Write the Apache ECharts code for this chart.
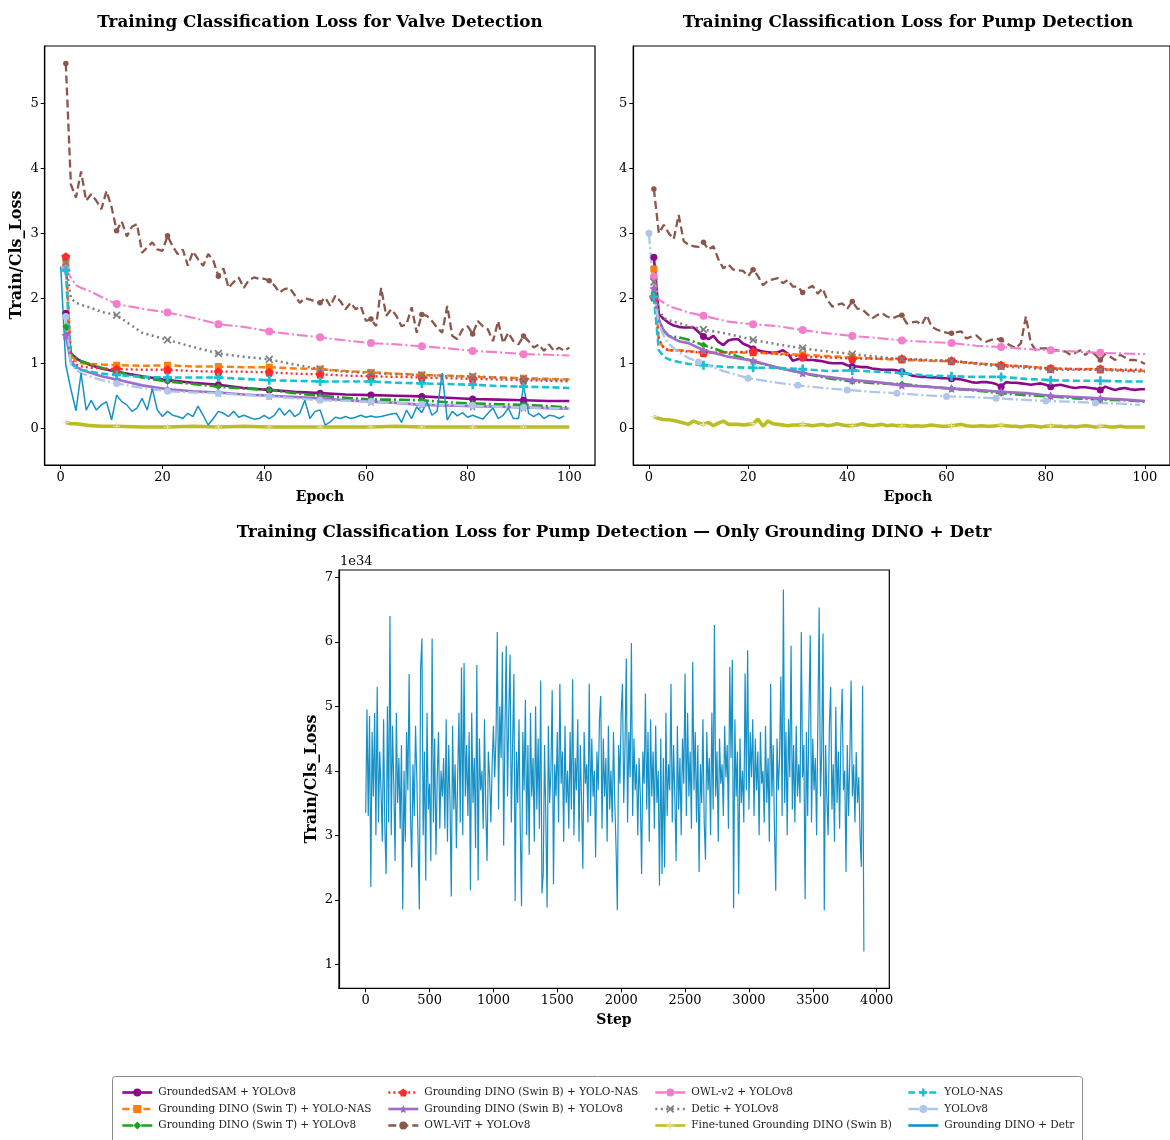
<!DOCTYPE html>
<html><head><meta charset="utf-8">
<script src="https://cdn.jsdelivr.net/npm/echarts@6/dist/echarts.min.js"></script>
<style>html,body{margin:0;padding:0;background:#fff}#c{width:1170px;height:1140px}</style>
</head><body><div id="c"></div>
<script>
// ---------- DATA ----------
const sparseEpochs = [1,2,3,4,6,8,11,16,21,26,31,36,41,46,51,56,61,66,71,76,81,86,91,96,100];
const pumpV8Epochs = [0,1,2,3,4,6,8,10,15,20,25,30,35,40,45,50,55,60,65,70,75,80,85,90,95,99];
const fullEpochs = Array.from({length:100},(_,i)=>i+1);
const detrEpochs = Array.from({length:100},(_,i)=>i);
const xTicksEpoch = [0,20,40,60,80,100];
const yTicksLoss = [0,1,2,3,4,5];
const xTicksStep = [0,500,1000,1500,2000,2500,3000,3500,4000];
const yTicksE34 = [1,2,3,4,5,6,7];

// Valve detection (values on sparseEpochs unless noted)
const valveGroundedSAM = [1.77,1.15,1.08,1.03,0.97,0.92,0.87,0.80,0.74,0.70,0.67,0.62,0.59,0.56,0.54,0.52,0.51,0.50,0.49,0.47,0.45,0.44,0.43,0.42,0.42];
const valveSwinTNas = [2.55,1.12,1.04,1.00,0.99,0.98,0.97,0.96,0.97,0.95,0.95,0.94,0.94,0.92,0.91,0.88,0.86,0.84,0.82,0.81,0.79,0.78,0.77,0.76,0.75];
const valveSwinTV8 = [1.56,1.16,1.08,1.03,0.98,0.93,0.87,0.78,0.72,0.68,0.64,0.61,0.59,0.54,0.50,0.47,0.44,0.44,0.43,0.40,0.38,0.37,0.36,0.34,0.32];
const valveSwinBNas = [2.64,1.08,0.98,0.95,0.93,0.92,0.91,0.90,0.90,0.88,0.87,0.87,0.86,0.84,0.83,0.81,0.80,0.79,0.78,0.77,0.76,0.75,0.74,0.73,0.72];
const valveSwinBV8 = [1.43,1.02,0.95,0.90,0.85,0.80,0.75,0.66,0.60,0.57,0.55,0.52,0.50,0.48,0.46,0.43,0.41,0.39,0.36,0.35,0.34,0.33,0.32,0.31,0.30];
const valveOwlVit = [5.61,3.75,3.55,3.95,3.5,3.6,3.5,3.37,3.65,3.4,3.04,3.18,2.95,3.1,3.14,2.7,2.78,2.86,2.75,2.73,2.96,2.8,2.68,2.75,2.5,2.72,2.6,2.5,2.68,2.58,2.34,2.46,2.16,2.25,2.32,2.16,2.28,2.32,2.3,2.3,2.27,2.2,2.09,2.14,2.16,2.05,1.93,2.0,1.98,1.95,1.93,2.01,1.88,2.04,1.95,1.83,1.93,1.83,1.88,1.65,1.68,1.57,2.16,1.73,1.83,1.73,1.57,1.6,1.86,1.47,1.75,1.73,1.65,1.55,1.47,1.88,1.42,1.37,1.52,1.57,1.45,1.65,1.57,1.52,1.34,1.65,1.31,1.47,1.34,1.29,1.42,1.34,1.24,1.29,1.19,1.29,1.19,1.24,1.19,1.24]; // fullEpochs
const valveOwlV2 = [2.45,2.32,2.20,2.16,2.10,2.02,1.91,1.84,1.78,1.70,1.60,1.56,1.49,1.44,1.40,1.35,1.31,1.29,1.26,1.23,1.19,1.17,1.14,1.13,1.12];
const valveDetic = [2.55,2.00,1.93,1.90,1.85,1.79,1.74,1.47,1.36,1.25,1.15,1.10,1.06,0.98,0.91,0.87,0.85,0.83,0.82,0.80,0.80,0.78,0.76,0.75,0.74];
const valveFineTuned = [0.09,0.07,0.07,0.06,0.04,0.03,0.03,0.02,0.02,0.03,0.02,0.03,0.02,0.02,0.02,0.02,0.02,0.03,0.02,0.02,0.02,0.02,0.02,0.02,0.02];
const valveYoloNas = [2.43,1.00,0.93,0.90,0.87,0.84,0.82,0.79,0.78,0.78,0.78,0.76,0.74,0.73,0.72,0.72,0.72,0.70,0.69,0.68,0.67,0.65,0.64,0.63,0.62];
const valveYoloV8 = [1.72,0.98,0.90,0.85,0.79,0.74,0.69,0.62,0.57,0.55,0.54,0.51,0.49,0.46,0.43,0.42,0.41,0.39,0.37,0.36,0.35,0.33,0.32,0.31,0.30];
const valveDetr = [2.49,0.97,0.6,0.27,0.85,0.28,0.43,0.28,0.36,0.41,0.13,0.51,0.41,0.36,0.26,0.31,0.46,0.28,0.61,0.28,0.18,0.26,0.2,0.18,0.15,0.23,0.18,0.34,0.2,0.05,0.15,0.26,0.23,0.18,0.26,0.17,0.2,0.17,0.14,0.15,0.2,0.15,0.2,0.31,0.2,0.28,0.18,0.23,0.43,0.15,0.26,0.28,0.05,0.1,0.17,0.15,0.18,0.15,0.17,0.2,0.17,0.19,0.17,0.18,0.2,0.22,0.23,0.09,0.28,0.15,0.33,0.24,0.41,0.2,0.26,0.85,0.13,0.26,0.19,0.24,0.17,0.2,0.17,0.14,0.23,0.31,0.15,0.2,0.31,0.15,0.15,0.65,0.23,0.18,0.23,0.15,0.2,0.19,0.15,0.19]; // detrEpochs

// Pump detection
const pumpGroundedSAM = [2.63,1.76,1.68,1.62,1.58,1.56,1.55,1.55,1.55,1.48,1.41,1.37,1.42,1.33,1.28,1.35,1.37,1.37,1.3,1.27,1.22,1.2,1.18,1.17,1.16,1.17,1.2,1.15,1.04,1.06,1.08,1.05,1.05,1.04,1.03,1.01,1.0,1.0,1.0,0.97,0.95,0.95,0.94,0.94,0.92,0.91,0.9,0.9,0.9,0.89,0.87,0.84,0.81,0.8,0.79,0.79,0.78,0.78,0.77,0.77,0.76,0.76,0.75,0.73,0.71,0.7,0.71,0.71,0.7,0.68,0.64,0.71,0.7,0.7,0.69,0.68,0.67,0.68,0.69,0.67,0.64,0.66,0.67,0.65,0.63,0.62,0.63,0.63,0.62,0.61,0.59,0.64,0.61,0.59,0.61,0.62,0.6,0.59,0.6,0.6]; // fullEpochs
const pumpSwinTNas = [2.45,1.35,1.23,1.20,1.20,1.19,1.16,1.17,1.16,1.15,1.13,1.11,1.09,1.07,1.05,1.04,1.03,1.00,0.97,0.95,0.92,0.91,0.91,0.89,0.88];
const pumpSwinTV8 = [2.08,1.67,1.50,1.42,1.40,1.36,1.28,1.15,1.03,0.93,0.85,0.77,0.72,0.69,0.68,0.64,0.61,0.58,0.54,0.51,0.49,0.46,0.44,0.43,0.41];
const pumpSwinBNas = [2.02,1.38,1.23,1.20,1.19,1.18,1.16,1.17,1.18,1.14,1.10,1.09,1.07,1.07,1.07,1.05,1.04,1.00,0.97,0.95,0.92,0.91,0.91,0.90,0.90];
const pumpSwinBV8 = [2.15,1.66,1.50,1.42,1.34,1.31,1.20,1.10,1.04,0.93,0.85,0.79,0.74,0.71,0.66,0.64,0.61,0.59,0.56,0.54,0.50,0.48,0.46,0.44,0.42];
const pumpOwlVit = [3.68,3.0,3.13,3.0,2.91,3.28,2.88,2.82,2.8,2.79,2.86,2.75,2.8,2.6,2.46,2.52,2.44,2.43,2.42,2.34,2.44,2.34,2.2,2.27,2.29,2.31,2.23,2.28,2.18,2.18,2.09,2.15,2.19,2.07,2.15,1.97,1.87,1.9,1.92,1.84,1.95,1.84,1.83,1.76,1.69,1.74,1.77,1.72,1.69,1.72,1.74,1.61,1.63,1.64,1.59,1.74,1.56,1.52,1.49,1.47,1.46,1.48,1.49,1.38,1.41,1.43,1.36,1.33,1.36,1.38,1.36,1.31,1.27,1.23,1.31,1.72,1.31,1.2,1.23,1.23,1.2,1.2,1.19,1.18,1.13,1.16,1.2,1.13,1.2,1.13,1.05,1.15,1.1,1.05,1.13,1.09,1.05,1.05,1.03,0.99]; // fullEpochs
const pumpOwlV2 = [2.33,1.98,1.93,1.88,1.83,1.78,1.73,1.64,1.60,1.57,1.51,1.46,1.42,1.39,1.35,1.33,1.31,1.27,1.25,1.22,1.20,1.18,1.16,1.15,1.14];
const pumpDetic = [2.25,1.82,1.70,1.66,1.62,1.57,1.52,1.45,1.36,1.29,1.23,1.18,1.14,1.10,1.06,1.05,1.03,0.99,0.95,0.93,0.90,0.90,0.90,0.88,0.87];
const pumpFineTuned = [0.18,0.15,0.13,0.13,0.12,0.1,0.08,0.06,0.11,0.08,0.06,0.09,0.04,0.08,0.11,0.06,0.06,0.06,0.05,0.06,0.07,0.14,0.03,0.11,0.07,0.06,0.05,0.04,0.05,0.05,0.06,0.05,0.04,0.05,0.06,0.04,0.05,0.07,0.05,0.04,0.04,0.05,0.07,0.05,0.04,0.05,0.06,0.04,0.05,0.04,0.04,0.04,0.03,0.04,0.03,0.04,0.05,0.04,0.03,0.03,0.04,0.05,0.06,0.04,0.03,0.03,0.04,0.03,0.03,0.04,0.05,0.04,0.03,0.03,0.02,0.03,0.04,0.03,0.02,0.03,0.04,0.03,0.03,0.02,0.03,0.02,0.03,0.04,0.03,0.02,0.03,0.03,0.02,0.02,0.03,0.02,0.02,0.02,0.02,0.02]; // fullEpochs
const pumpYoloNas = [2.02,1.20,1.10,1.06,1.02,0.99,0.97,0.94,0.93,0.93,0.91,0.88,0.89,0.87,0.85,0.81,0.80,0.79,0.79,0.76,0.74,0.73,0.73,0.72,0.72];
const pumpYoloV8 = [3.00,2.05,1.60,1.42,1.30,1.17,1.08,1.02,0.88,0.77,0.71,0.66,0.62,0.59,0.56,0.54,0.51,0.49,0.48,0.46,0.44,0.42,0.41,0.39,0.38,0.36]; // pumpV8Epochs

// Pump detection, only Grounding DINO + Detr (values x 1e34), one value every 10 steps
const detrPumpLossE34 = [
3.35,4.95,3.3,4.85,2.2,4.6,3.6,4.9,3.0,5.3,3.2,4.3,3.7,2.9,4.8,3.1,2.4,5.0,3.2,6.4,
3.0,4.7,3.8,2.6,4.9,3.5,4.2,3.1,4.4,1.85,4.0,2.9,4.6,3.7,5.5,3.4,2.5,4.1,3.3,4.7,
3.9,2.9,1.85,5.6,6.05,3.0,4.3,2.3,4.9,3.4,3.8,2.6,6.05,3.2,4.5,2.7,3.9,4.6,3.1,4.0,
3.6,4.2,3.1,4.8,2.9,4.4,3.5,2.05,4.7,3.4,4.1,2.8,3.9,4.9,3.2,5.6,3.0,5.67,3.6,4.4,
3.3,4.6,2.15,4.9,3.5,4.2,2.8,5.64,2.3,4.5,3.7,4.0,3.1,4.8,3.4,2.6,4.3,3.9,3.2,4.1,
4.7,3.9,4.5,6.15,3.4,5.0,4.2,5.84,2.84,4.6,5.94,3.6,4.9,5.8,3.2,4.4,5.5,1.98,4.3,3.5,
4.8,3.1,1.9,4.6,3.7,5.1,3.0,4.4,2.7,4.9,3.6,4.2,2.9,5.0,3.4,4.5,3.1,5.4,2.1,2.4,
4.4,3.3,1.88,4.7,3.5,4.0,5.25,2.24,4.1,3.6,4.6,3.2,5.35,3.8,4.3,2.9,4.7,3.5,4.0,3.1,
4.6,3.4,5.42,3.0,4.2,3.7,4.8,2.9,4.4,3.5,2.48,4.6,3.8,4.1,3.2,5.35,3.3,4.5,3.6,4.0,
2.66,4.3,3.7,4.8,5.16,3.1,4.5,3.6,4.2,2.9,4.7,3.4,4.0,3.2,4.6,3.5,2.8,1.84,4.4,3.8,
4.9,5.35,3.5,4.4,5.74,3.2,4.6,3.9,5.98,3.3,4.5,3.7,4.1,3.0,4.2,3.6,2.4,4.3,3.8,5.2,
3.4,4.6,2.9,4.8,3.6,4.3,3.1,4.7,3.5,4.0,2.22,4.5,2.4,4.2,2.5,4.9,3.3,4.1,3.7,5.35,
3.2,4.4,3.6,2.6,4.7,3.4,4.2,3.0,4.5,3.8,5.51,3.3,4.9,3.6,4.3,3.1,5.69,3.7,4.6,3.2,
4.4,2.43,4.1,3.5,4.8,3.2,2.62,4.6,3.7,4.2,3.0,4.9,3.4,6.26,3.6,4.3,2.9,4.5,3.8,4.1,
3.3,4.7,3.9,4.4,3.1,5.61,4.2,5.72,1.87,4.8,3.6,4.3,2.09,4.5,3.5,4.0,3.2,5.51,3.7,5.87,
3.4,4.6,3.9,4.8,3.3,4.5,3.7,4.3,3.0,4.6,3.8,4.0,3.2,4.7,3.5,4.2,2.9,5.35,3.6,4.4,
3.1,2.14,4.5,3.7,4.2,5.46,3.3,6.81,3.5,4.6,3.0,4.8,3.9,5.94,3.4,4.4,3.2,4.7,3.6,4.1,
3.5,6.15,3.9,4.4,2.01,4.6,3.3,4.9,6.1,3.2,4.5,3.7,4.2,3.0,4.8,6.53,3.6,4.3,6.13,1.84,
4.4,3.6,3.0,4.7,5.3,3.4,4.1,2.9,4.99,3.5,4.3,3.1,4.6,5.27,3.7,4.0,2.43,4.4,3.3,4.2,
5.4,3.6,4.1,3.2,4.29,3.5,3.9,3.0,2.51,5.32,1.2];
const detrSteps = Array.from({length:detrPumpLossE34.length},(_,i)=>i*10);

const legendColumns = [
  ['GroundedSAM + YOLOv8','Grounding DINO (Swin T) + YOLO-NAS','Grounding DINO (Swin T) + YOLOv8'],
  ['Grounding DINO (Swin B) + YOLO-NAS','Grounding DINO (Swin B) + YOLOv8','OWL-ViT + YOLOv8'],
  ['OWL-v2 + YOLOv8','Detic + YOLOv8','Fine-tuned Grounding DINO (Swin B)'],
  ['YOLO-NAS','YOLOv8','Grounding DINO + Detr']
];

// ---------- STYLE ----------
const PENTAGON = 'path://M0,-10 L9.5,-3.1 L5.9,8.1 L-5.9,8.1 L-9.5,-3.1 Z';
const STAR = 'path://M0,-10 L2.9,-4 L9.5,-3.1 L4.7,1.5 L5.9,8.1 L0,5 L-5.9,8.1 L-4.7,1.5 L-9.5,-3.1 L-2.9,-4 Z';
const XMARK = 'path://M-10,-7 L-7,-10 L0,-3 L7,-10 L10,-7 L3,0 L10,7 L7,10 L0,3 L-7,10 L-10,7 L-3,0 Z';
const PLUS = 'path://M-3,-10 L3,-10 L3,-3 L10,-3 L10,3 L3,3 L3,10 L-3,10 L-3,3 L-10,3 L-10,-3 L-3,-3 Z';
const PLUS_THIN = 'path://M-1.5,-10 L1.5,-10 L1.5,-1.5 L10,-1.5 L10,1.5 L1.5,1.5 L1.5,10 L-1.5,10 L-1.5,1.5 L-10,1.5 L-10,-1.5 L-1.5,-1.5 Z';
const DASHDOT = [11,3,2,3];
const styles = {
  'GroundedSAM + YOLOv8': {color:'#8b0a8b', type:'solid', width:2.6, symbol:'circle', size:7},
  'Grounding DINO (Swin T) + YOLO-NAS': {color:'#ff7f0e', type:[7,3.5], width:2.5, symbol:'rect', size:7},
  'Grounding DINO (Swin T) + YOLOv8': {color:'#1ca21c', type:DASHDOT, width:2.6, symbol:'diamond', size:7},
  'Grounding DINO (Swin B) + YOLO-NAS': {color:'#ff2a2a', type:[2,3], width:2.3, symbol:PENTAGON, size:9},
  'Grounding DINO (Swin B) + YOLOv8': {color:'#a06ccc', type:'solid', width:2.6, symbol:STAR, size:9},
  'OWL-ViT + YOLOv8': {color:'#8c564b', type:[8,4], width:2.3, symbol:'circle', size:5.5},
  'OWL-v2 + YOLOv8': {color:'#f47dcc', type:DASHDOT, width:2.1, symbol:'circle', size:8},
  'Detic + YOLOv8': {color:'#7f7f7f', type:[2,3.5], width:2.5, symbol:XMARK, size:8},
  'Fine-tuned Grounding DINO (Swin B)': {color:'#bcbd22', type:'solid', width:3.6, symbol:PLUS_THIN, size:7, symbolColor:'#e4e4b0'},
  'YOLO-NAS': {color:'#17c0d2', type:[7,3.5], width:2.6, symbol:PLUS, size:9},
  'YOLOv8': {color:'#aec7e8', type:DASHDOT, width:2.3, symbol:'circle', size:7},
  'Grounding DINO + Detr': {color:'#1591c8', type:'solid', width:1.5, symbol:'none', size:0}
};
const FONT = "'DejaVu Serif', serif";

function mk(name, xs, ys, grid, markStart){
  const st = styles[name];
  const ms = markStart === undefined ? 1 : markStart;
  return {
    type:'line', name, xAxisIndex:grid, yAxisIndex:grid,
    data: xs.map((x,i)=>[x, ys[i]]),
    showSymbol: st.symbol !== 'none', showAllSymbol:true,
    symbol: st.symbol,
    symbolSize: (v)=> ((v[0]-ms) % 10 === 0 && v[0] >= ms) ? st.size : 0,
    lineStyle:{color:st.color, width:st.width, type:st.type},
    itemStyle:{color: st.symbolColor || st.color},
    emphasis:{disabled:true}, animation:false, z:2
  };
}

const series = [
  mk('GroundedSAM + YOLOv8', sparseEpochs, valveGroundedSAM, 0),
  mk('Grounding DINO (Swin T) + YOLO-NAS', sparseEpochs, valveSwinTNas, 0),
  mk('Grounding DINO (Swin T) + YOLOv8', sparseEpochs, valveSwinTV8, 0),
  mk('Grounding DINO (Swin B) + YOLO-NAS', sparseEpochs, valveSwinBNas, 0),
  mk('Grounding DINO (Swin B) + YOLOv8', sparseEpochs, valveSwinBV8, 0),
  mk('OWL-ViT + YOLOv8', fullEpochs, valveOwlVit, 0),
  mk('OWL-v2 + YOLOv8', sparseEpochs, valveOwlV2, 0),
  mk('Detic + YOLOv8', sparseEpochs, valveDetic, 0),
  mk('Fine-tuned Grounding DINO (Swin B)', sparseEpochs, valveFineTuned, 0),
  mk('YOLO-NAS', sparseEpochs, valveYoloNas, 0),
  mk('YOLOv8', sparseEpochs, valveYoloV8, 0),
  mk('Grounding DINO + Detr', detrEpochs, valveDetr, 0),

  mk('GroundedSAM + YOLOv8', fullEpochs, pumpGroundedSAM, 1),
  mk('Grounding DINO (Swin T) + YOLO-NAS', sparseEpochs, pumpSwinTNas, 1),
  mk('Grounding DINO (Swin T) + YOLOv8', sparseEpochs, pumpSwinTV8, 1),
  mk('Grounding DINO (Swin B) + YOLO-NAS', sparseEpochs, pumpSwinBNas, 1),
  mk('Grounding DINO (Swin B) + YOLOv8', sparseEpochs, pumpSwinBV8, 1),
  mk('OWL-ViT + YOLOv8', fullEpochs, pumpOwlVit, 1),
  mk('OWL-v2 + YOLOv8', sparseEpochs, pumpOwlV2, 1),
  mk('Detic + YOLOv8', sparseEpochs, pumpDetic, 1),
  mk('Fine-tuned Grounding DINO (Swin B)', fullEpochs, pumpFineTuned, 1),
  mk('YOLO-NAS', sparseEpochs, pumpYoloNas, 1),
  mk('YOLOv8', pumpV8Epochs, pumpYoloV8, 1, 0),
  {
    type:'line', name:'Grounding DINO + Detr', xAxisIndex:2, yAxisIndex:2,
    data: detrSteps.map((s,i)=>[s, detrPumpLossE34[i]]),
    showSymbol:false, symbol:'none',
    lineStyle:{color:styles['Grounding DINO + Detr'].color, width:1.2},
    itemStyle:{color:styles['Grounding DINO + Detr'].color},
    emphasis:{disabled:true}, animation:false
  }
];

function axis(grid, min, max, ticks){
  return {type:'value', gridIndex:grid, min, max,
    axisLine:{show:true, onZero:false, lineStyle:{color:'#000', width:1.2}},
    axisTick:{show:true, customValues:ticks, length:4, lineStyle:{color:'#000', width:1}},
    axisLabel:{customValues:ticks, fontFamily:FONT, fontSize:13, color:'#000', margin:6,
      formatter:(v)=>String(v)},
    splitLine:{show:false}};
}

const legendLefts = [121, 387, 654, 907];
const legends = legendColumns.map((col,i)=>({
  data:col.map(n => n === 'Grounding DINO + Detr' ? {name:n, itemStyle:{opacity:0}} : n),
  orient:'vertical', left:legendLefts[i], top:1087, padding:0,
  itemWidth:30, itemHeight:10, itemGap:5.5, selectedMode:false,
  lineStyle:{width:2.6},
  textStyle:{fontFamily:FONT, fontSize:10.5, color:'#222', padding:[0,0,0,1]}
}));

const titleFont = "bold 16.8px 'DejaVu Serif', serif";
const labelFont = "bold 14px 'DejaVu Serif', serif";
const yLabelFont = "bold 16px 'DejaVu Serif', serif";
function txt(x,y,text,font,rot){
  return {type:'text', x, y, rotation:rot||0, z:10,
    style:{text, font, fill:'#000', align:'center', verticalAlign:'middle'}};
}

const option = {
  backgroundColor:'#fff',
  animation:false,
  grid:[
    {left:44.7, top:46, width:550.3, height:419, show:true, borderColor:'#000', borderWidth:1.2, containLabel:false},
    {left:633.3, top:46, width:550, height:419, show:true, borderColor:'#000', borderWidth:1.2, containLabel:false},
    {left:339, top:570, width:550.3, height:418.3, show:true, borderColor:'#000', borderWidth:1.2, containLabel:false}
  ],
  xAxis:[
    axis(0, -3.15, 105.05, xTicksEpoch),
    axis(1, -3.15, 105.05, xTicksEpoch),
    axis(2, -209, 4099, xTicksStep)
  ],
  yAxis:[
    axis(0, -0.565, 5.88, yTicksLoss),
    axis(1, -0.565, 5.88, yTicksLoss),
    axis(2, 0.628, 7.113, yTicksE34)
  ],
  legend: legends,
  graphic:[
    {type:'rect', z:-1, shape:{x:112.5, y:1076.5, width:970, height:90, r:3},
      style:{fill:'rgba(255,255,255,0.9)', stroke:'#8a8a8a', lineWidth:1}},
    txt(320, 23, 'Training Classification Loss for Valve Detection', titleFont),
    txt(908, 23, 'Training Classification Loss for Pump Detection', titleFont),
    txt(614, 533, 'Training Classification Loss for Pump Detection — Only Grounding DINO + Detr', titleFont),
    txt(320, 497, 'Epoch', labelFont),
    txt(908, 497, 'Epoch', labelFont),
    txt(614, 1020, 'Step', labelFont),
    txt(17, 255, 'Train/Cls_Loss', yLabelFont, Math.PI/2),
    txt(312, 779, 'Train/Cls_Loss', yLabelFont, Math.PI/2),
    {type:'text', x:340, y:562, z:10, style:{text:'1e34', font:"13px 'DejaVu Serif', serif", fill:'#000', align:'left', verticalAlign:'middle'}}
  ],
  series
};

const chart = echarts.init(document.getElementById('c'), null, {renderer:'canvas'});
chart.setOption(option);
</script></body></html>
